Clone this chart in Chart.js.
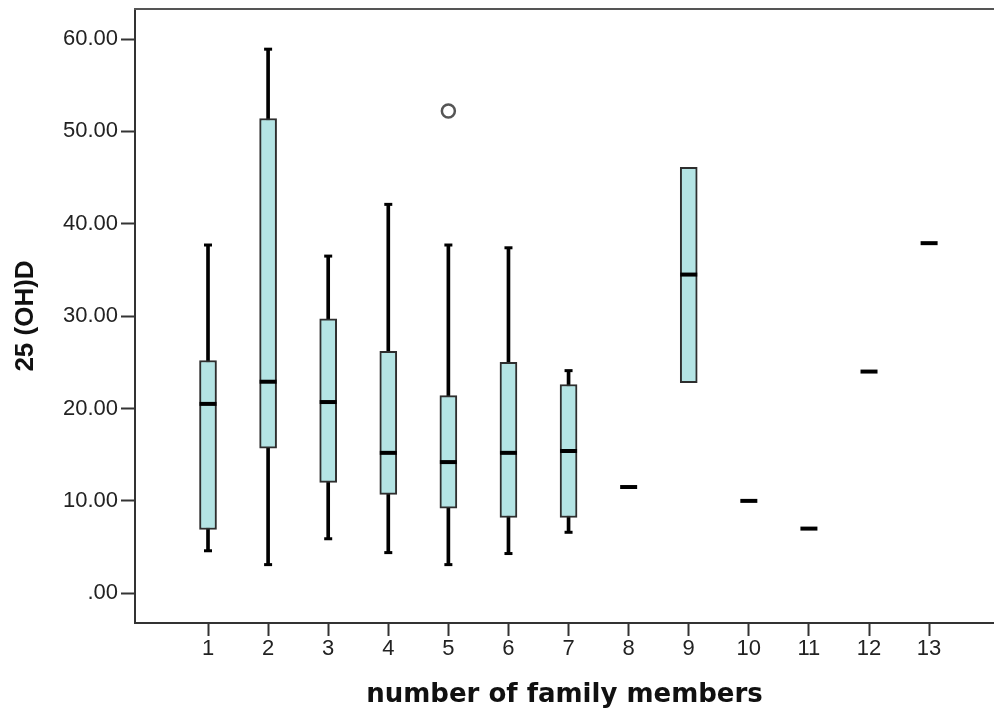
<!DOCTYPE html>
<html>
<head>
<meta charset="utf-8">
<script src="https://cdn.jsdelivr.net/npm/chart.js@4.4.1/dist/chart.umd.min.js"></script>
<style>
  html, body { margin: 0; padding: 0; background: #ffffff; }
  #wrap { width: 994px; height: 713px; position: relative; }
</style>
</head>
<body>
<div id="wrap"><canvas id="c" width="994" height="713"></canvas></div>
<script>
// ---- data ----
const categories   = [1, 2, 3, 4, 5, 6, 7, 8, 9, 10, 11, 12, 13];
const minValues    = [4.6, 3.1, 5.9, 4.4, 3.1, 4.3, 6.6, null, null, null, null, null, null];
const q1Values     = [6.9, 15.7, 12.0, 10.7, 9.2, 8.2, 8.2, 11.5, 22.8, 10.0, 7.0, 24.0, 37.9];
const medianValues = [20.5, 22.9, 20.7, 15.2, 14.2, 15.2, 15.4, 11.5, 34.5, 10.0, 7.0, 24.0, 37.9];
const q3Values     = [25.2, 51.4, 29.7, 26.2, 21.4, 25.0, 22.6, 11.5, 46.1, 10.0, 7.0, 24.0, 37.9];
const maxValues    = [37.7, 58.9, 36.5, 42.1, 37.7, 37.4, 24.1, null, null, null, null, null, null];
const outlierCategories = [5];
const outlierValues     = [52.2];
const yTickValues = [0, 10, 20, 30, 40, 50, 60];
const xTitle = 'number of family members';
const yTitle = '25 (OH)D';

// ---- build library datasets from the arrays ----
const whiskerData = [];
const boxData = [];
const medianData = [];
const capData = [];
categories.forEach((c, i) => {
  if (minValues[i] != null && maxValues[i] != null) {
    whiskerData.push({ x: c, y: [minValues[i], maxValues[i]] });
    capData.push({ x: c, y: minValues[i] });
    capData.push({ x: c, y: maxValues[i] });
  }
  if (q1Values[i] !== q3Values[i]) {
    boxData.push({ x: c, y: [q1Values[i], q3Values[i]] });
  }
  medianData.push({ x: c, y: medianValues[i] });
});
const outlierData = outlierCategories.map((c, i) => ({ x: c, y: outlierValues[i] }));

const topFrame = {
  id: 'topFrame',
  afterDraw(chart) {
    const { ctx, chartArea } = chart;
    ctx.save();
    ctx.strokeStyle = '#555555';
    ctx.lineWidth = 2;
    ctx.beginPath();
    ctx.moveTo(chartArea.left - 1, chartArea.top);
    ctx.lineTo(chartArea.right, chartArea.top);
    ctx.stroke();
    ctx.restore();
  }
};

const zeroPad = (scale) => {
  scale.paddingTop = 0; scale.paddingBottom = 0;
  scale.paddingLeft = 0; scale.paddingRight = 0;
};

new Chart(document.getElementById('c'), {
  type: 'bar',
  data: {
    datasets: [
      {
        type: 'bar',
        data: whiskerData,
        backgroundColor: '#000000',
        borderWidth: 0,
        barThickness: 3,
        grouped: false,
        order: 5
      },
      {
        type: 'bar',
        data: boxData,
        backgroundColor: '#b4e4e4',
        borderColor: '#2e2e2e',
        borderWidth: 2,
        borderSkipped: false,
        barThickness: 17,
        grouped: false,
        order: 4
      },
      {
        type: 'scatter',
        data: capData,
        pointStyle: 'line',
        pointRadius: 4,
        pointBorderWidth: 3,
        borderColor: '#000000',
        backgroundColor: '#000000',
        order: 3
      },
      {
        type: 'scatter',
        data: medianData,
        pointStyle: 'line',
        pointRadius: 8.5,
        pointBorderWidth: 4,
        borderColor: '#000000',
        backgroundColor: '#000000',
        order: 2
      },
      {
        type: 'scatter',
        data: outlierData,
        pointStyle: 'circle',
        pointRadius: 6.5,
        pointBorderWidth: 2.5,
        borderColor: '#555555',
        backgroundColor: '#ffffff',
        order: 1
      }
    ]
  },
  options: {
    responsive: false,
    animation: false,
    events: [],
    layout: { autoPadding: false, padding: { top: 9, right: 0, bottom: 0, left: 0 } },
    plugins: {
      legend: { display: false },
      tooltip: { enabled: false }
    },
    scales: {
      x: {
        type: 'linear',
        offset: false,
        min: -0.215,
        max: 14.08,
        afterBuildTicks: (scale) => { scale.ticks = categories.map(v => ({ value: v })); },
        afterFit: (scale) => { scale.height = 90; zeroPad(scale); },
        grid: { display: true, offset: false, drawOnChartArea: false, drawTicks: true, tickLength: 13, tickColor: '#333333', tickWidth: 2 },
        border: { display: true, color: '#333333', width: 2 },
        ticks: {
          color: '#222222',
          font: { family: "Arial, 'Liberation Sans', sans-serif", size: 22 },
          padding: 0,
          maxRotation: 0,
          autoSkip: false,
          callback: (v) => String(v)
        },
        title: {
          display: true,
          text: xTitle,
          color: '#111111',
          font: { family: "'DejaVu Sans', sans-serif", size: 26, weight: 'bold' },
          padding: { top: 0, bottom: 2 }
        }
      },
      y: {
        type: 'linear',
        min: -3.22,
        max: 63.25,
        afterBuildTicks: (scale) => { scale.ticks = yTickValues.map(v => ({ value: v })); },
        afterFit: (scale) => { scale.width = 135; zeroPad(scale); },
        grid: { display: true, drawOnChartArea: false, drawTicks: true, tickLength: 14, tickColor: '#333333', tickWidth: 2 },
        border: { display: true, color: '#333333', width: 2 },
        ticks: {
          color: '#222222',
          font: { family: "Arial, 'Liberation Sans', sans-serif", size: 22 },
          padding: 3,
          callback: (v) => v === 0 ? '.00' : Number(v).toFixed(2)
        },
        title: {
          display: true,
          text: yTitle,
          color: '#111111',
          font: { family: "Arial, 'Liberation Sans', sans-serif", size: 26, weight: 'bold' },
          padding: { top: 10, bottom: 0 }
        }
      }
    }
  },
  plugins: [topFrame]
});
</script>
</body>
</html>
